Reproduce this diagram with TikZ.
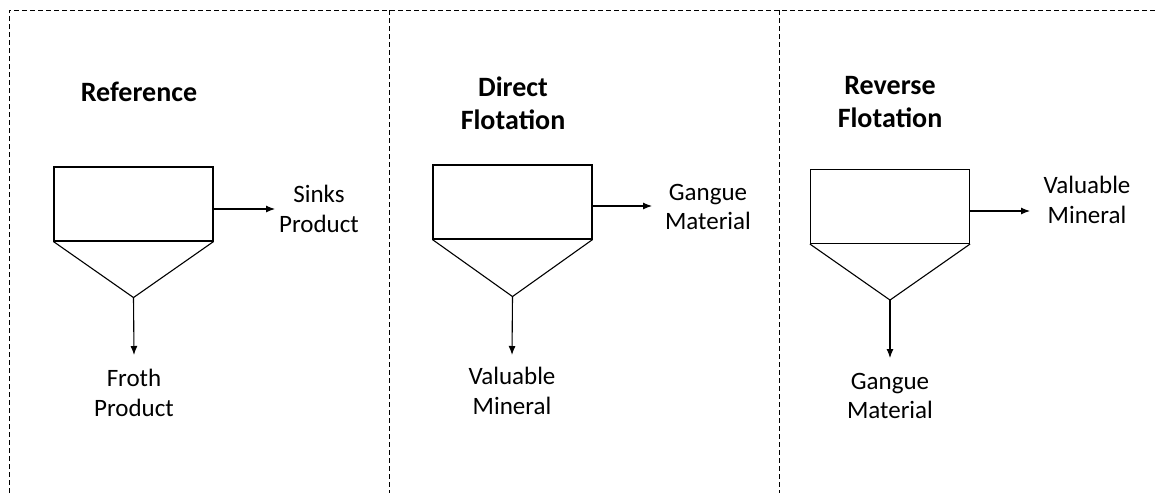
\documentclass[tikz,border=0pt]{standalone}
\usepackage{fontspec}
\setmainfont{Carlito}
\usetikzlibrary{arrows.meta}

\begin{document}
\begin{tikzpicture}[x=1pt,y=-1pt,
    tank/.style={draw,line width=1.1pt,minimum width=159pt,minimum height=74pt,inner sep=0pt},
    flow/.style={line width=1.1pt,-{Latex[length=9pt,width=7pt]}},
    lbl/.style={align=center,inner sep=0pt,font=\fontsize{25}{29.5}\selectfont},
    heading/.style={align=center,inner sep=0pt,font=\fontsize{28}{33}\selectfont\bfseries},
    frame/.style={line width=1pt,dash pattern=on 5pt off 3pt}]
    \useasboundingbox (0,0) rectangle (1157,493);
    % Dashed frame and dividers
    \draw[frame] (9,493) -- (9,10) -- (1157,10);
    \foreach \x in {389,779}
    \draw[frame] (\x,10) -- (\x,493);
    % Reference
    \node[heading] (h1) at (139,92) {Reference};
    \node[tank] (t1) at (133.5,204) {};
    \path (t1.south) ++(0,56) coordinate (a1);
    \draw[line width=1.1pt] (t1.south west) -- (a1) -- (t1.south east);
    \coordinate (e1) at (275,209);
    \coordinate (d1) at (134,355);
    \draw[flow] (t1.east |- e1) -- (e1);
    \draw[flow] (a1) -- (d1);
    \node[lbl] (s1) at (319,209) {Sinks\\Product};
    \node[lbl] (f1) at (134,393) {Froth\\Product};
    % Direct flotation
    \node[heading] (h2) at (513,103) {Direct\\Flota\kern0pt tion};
    \node[tank] (t2) at (512.5,202) {};
    \path (t2.south) ++(0,57) coordinate (a2);
    \draw[line width=1.1pt] (t2.south west) -- (a2) -- (t2.south east);
    \coordinate (e2) at (652,206);
    \coordinate (d2) at (512,355);
    \draw[flow] (t2.east |- e2) -- (e2);
    \draw[flow] (a2) -- (d2);
    \node[lbl] (s2) at (708,207) {Gangue\\Material};
    \node[lbl] (f2) at (512,391) {Valuable\\Mineral};
    % Reverse flotation
    \node[heading] (h3) at (890,102) {Reverse\\Flota\kern0pt tion};
    \node[tank] (t3) at (890,206.5) {};
    \path (t3.south) ++(0,56) coordinate (a3);
    \draw[line width=1.1pt] (t3.south west) -- (a3) -- (t3.south east);
    \coordinate (e3) at (1030,211);
    \coordinate (d3) at (890,358);
    \draw[flow] (t3.east |- e3) -- (e3);
    \draw[flow] (a3) -- (d3);
    \node[lbl] (s3) at (1087,200) {Valuable\\Mineral};
    \node[lbl] (f3) at (890,396) {Gangue\\Material};
\end{tikzpicture}
\end{document}
